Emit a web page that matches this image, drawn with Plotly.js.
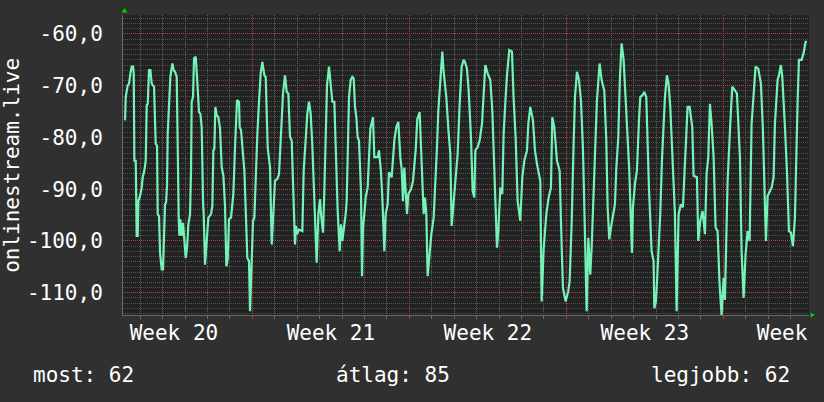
<!DOCTYPE html>
<html>
<head>
<meta charset="utf-8">
<script src="https://cdn.plot.ly/plotly-3.0.1.min.js"></script>
<style>html,body{margin:0;padding:0;background:#303030;}#chart{width:824px;height:402px;}</style>
</head>
<body>
<div id="chart"></div>
<script>
// ---- data: day offsets from Monday of Week 20, and values ----
const dayOffsets = [
1.321,1.351,1.440,1.499,1.559,1.618,1.678,1.708,1.737,1.797,
1.841,1.886,1.916,1.990,2.064,2.109,2.183,2.243,2.287,2.332,
2.391,2.451,2.510,2.614,2.688,2.748,2.778,2.837,2.882,2.956,
3.015,3.045,3.104,3.149,3.193,3.223,3.342,3.432,3.491,3.550,
3.625,3.714,3.744,3.788,3.848,3.907,3.951,4.026,4.085,4.145,
4.219,4.264,4.293,4.353,4.397,4.472,4.531,4.620,4.680,4.739,
4.799,4.828,4.888,4.977,5.037,5.155,5.215,5.259,5.304,5.349,
5.408,5.482,5.557,5.631,5.706,5.779,5.839,5.898,5.958,6.047,
6.151,6.225,6.314,6.404,6.433,6.493,6.552,6.642,6.775,6.849,
6.894,6.954,7.028,7.087,7.177,7.221,7.295,7.370,7.444,7.533,
7.593,7.682,7.786,7.860,7.919,8.008,8.113,8.187,8.261,8.365,
8.454,8.529,8.603,8.677,8.752,8.900,8.945,8.989,9.078,9.227,
9.287,9.346,9.450,9.524,9.599,9.673,9.762,9.792,9.866,9.941,
10.015,10.059,10.149,10.208,10.268,10.327,10.416,10.476,10.565,10.654,
10.713,10.803,10.892,10.951,11.011,11.070,11.159,11.204,11.248,11.308,11.382,
11.456,11.516,11.575,11.635,11.694,11.753,11.813,11.843,11.887,
11.932,11.991,12.051,12.140,12.259,12.378,12.437,12.586,12.645,12.734,
12.794,12.883,12.943,13.032,13.091,13.210,13.269,13.329,13.418,13.507,
13.596,13.656,13.715,13.775,13.893,13.953,14.072,14.161,14.280,14.354,
14.458,14.518,14.577,14.637,14.696,14.756,14.815,14.904,14.979,15.083,
15.172,15.231,15.291,15.409,15.469,15.528,15.647,15.737,15.826,15.885,
15.974,16.063,16.152,16.242,16.331,16.420,16.479,16.568,16.643,16.747,
16.821,16.896,16.940,17.044,17.133,17.237,17.312,17.386,17.490,17.609,
17.698,17.787,17.877,17.906,17.966,18.055,18.144,18.203,18.292,18.352,
18.456,18.575,18.649,18.738,18.828,18.946,19.036,19.125,19.244,19.303,
19.392,19.511,19.600,19.689,19.838,19.897,19.987,20.106,20.210,20.313,
20.373,20.462,20.581,20.700,20.789,20.849,20.968,21.086,21.146,21.235,
21.324,21.384,21.473,21.562,21.651,21.740,21.829,21.904,21.978,22.067,
22.127,22.216,22.275,22.364,22.483,22.572,22.691,22.781,22.840,22.915,
22.989,23.078,23.167,23.226,23.316,23.390,23.464,23.553,23.731,23.806,
23.924,23.969,24.058,24.147,24.237,24.296,24.400,24.475,24.564,24.683,
24.802,24.891,24.921,24.995,25.069,25.188,25.262,25.396,25.485,25.559,
25.634,25.753,25.842,25.916,26.005,26.109,26.198,26.287,26.406,26.496,26.615,
26.674,26.823,26.882,26.971,27.075,27.179,27.253,27.328,
27.402,27.477,27.566,27.655,27.744,27.833,27.922,28.011,28.071,28.190,
28.309,28.398,28.517,28.606,28.740,28.814,28.903,28.992,29.082,29.171,
29.260,29.349,29.438,29.557,29.676,29.765,29.825,29.899,29.973,30.152,
30.241,30.300,30.419,30.479,30.568,30.628,30.747,30.836,30.925,31.014,
31.103,31.192,31.311,31.371,31.490,31.579,31.668,31.727
];
const onlineValues = [
-76.7,-72.2,-69.9,-69.6,-67.6,-66.3,-66.3,-67.6,-84.5,-84.5,
-99.0,-99.0,-92.3,-91.3,-89.7,-87.7,-86.4,-84.5,-73.8,-73.5,
-67.0,-67.0,-69.6,-70.2,-81.2,-81.6,-94.8,-95.2,-102.3,-105.5,
-105.5,-101.3,-92.9,-92.6,-89.3,-79.3,-68.3,-65.7,-67.0,-67.3,
-68.3,-95.5,-99.0,-95.8,-99.0,-96.5,-99.4,-103.3,-101.3,-96.8,
-94.8,-86.4,-73.1,-72.2,-64.7,-64.4,-68.3,-75.1,-75.4,-78.0,
-92.3,-94.8,-104.6,-99.0,-95.5,-94.8,-93.2,-82.5,-82.2,-74.1,
-75.7,-76.1,-78.3,-85.8,-87.4,-93.2,-104.9,-103.6,-95.8,-95.5,
-90.9,-81.9,-72.8,-73.1,-78.0,-78.6,-81.2,-86.4,-103.3,-103.9,
-113.6,-103.6,-96.1,-95.5,-81.2,-79.3,-73.1,-67.6,-65.4,-68.0,
-68.3,-81.9,-85.8,-100.7,-95.8,-88.4,-88.0,-87.1,-80.6,-71.5,
-68.0,-71.2,-71.5,-79.9,-80.6,-100.7,-97.1,-98.7,-97.8,-98.1,
-86.4,-81.9,-75.4,-73.1,-75.4,-81.6,-91.9,-92.3,-104.2,-94.8,
-91.9,-94.8,-98.4,-90.3,-81.9,-69.9,-66.3,-68.9,-73.1,-73.1,
-81.9,-94.2,-102.0,-96.8,-100.0,-98.1,-94.8,-92.3,-84.5,-72.2,-68.9,
-68.3,-68.6,-74.1,-76.1,-80.0,-80.6,-90.0,-90.3,-106.8,
-97.4,-94.8,-91.6,-89.7,-78.3,-76.1,-83.8,-83.8,-82.5,-86.7,
-91.6,-102.0,-94.8,-92.9,-86.7,-87.7,-84.5,-80.6,-78.0,-77.0,
-83.8,-86.1,-92.3,-85.8,-94.8,-90.9,-90.0,-88.4,-82.5,-76.4,
-75.1,-82.2,-87.1,-94.8,-91.6,-94.8,-106.8,-102.0,-98.7,-95.5,
-88.4,-81.9,-74.8,-65.7,-63.4,-67.3,-72.2,-78.3,-83.2,-97.1,
-92.9,-89.0,-83.2,-73.5,-66.3,-65.0,-65.4,-66.7,-70.9,-80.0,
-90.3,-91.6,-82.5,-81.9,-80.6,-77.4,-70.9,-66.0,-67.6,-68.9,
-74.8,-85.8,-97.4,-101.3,-98.1,-89.7,-90.9,-79.3,-72.2,-68.0,
-63.1,-63.4,-72.5,-80.0,-92.3,-96.1,-87.7,-84.5,-82.5,-77.4,
-74.1,-76.7,-82.5,-85.1,-88.4,-111.7,-101.6,-94.8,-91.6,-89.7,
-76.1,-78.0,-84.5,-86.4,-100.7,-109.1,-111.7,-109.7,-107.8,-96.8,
-81.2,-72.2,-67.3,-68.9,-72.8,-82.2,-98.7,-113.6,-99.4,-106.5,
-101.3,-90.3,-81.9,-72.8,-65.7,-68.9,-70.9,-80.6,-93.5,-99.7,
-97.4,-94.8,-92.9,-86.1,-79.9,-68.3,-61.8,-65.0,-79.9,-86.4,
-102.3,-93.5,-89.0,-86.4,-76.7,-72.2,-71.8,-71.2,-72.2,-89.7,
-102.0,-103.9,-113.0,-111.7,-105.5,-94.8,-84.5,-72.2,-68.0,-69.6,
-74.1,-87.1,-94.8,-113.6,-94.8,-92.9,-93.5,-85.1,-74.1,-74.1,-78.0,
-87.4,-87.7,-100.0,-96.1,-94.2,-98.7,-87.1,-83.8,
-73.5,-77.4,-83.8,-97.4,-98.1,-108.4,-114.3,-107.1,-111.4,-88.4,
-77.4,-70.2,-70.9,-71.5,-83.8,-102.0,-111.0,-102.6,-98.1,-100.0,
-77.4,-71.5,-66.3,-66.7,-69.6,-78.6,-91.3,-100.0,-91.3,-89.7,
-87.7,-77.4,-68.9,-68.0,-66.0,-68.3,-78.0,-86.4,-98.1,-98.4,
-101.0,-95.5,-73.1,-65.0,-65.0,-63.7,-61.5,-61.5
];

// ---- axis labels ----
// the last week label is shown truncated ("Week") in the source, placed where its full text began
const weekLabels = ['Week 20', 'Week 21', 'Week 22', 'Week 23', 'Week'];
const weekLabelPos = [3.5, 10.5, 17.5, 24.5, 30.62];
const yTickVals = [-60, -70, -80, -90, -100, -110];
const yTickLabels = ['-60,0', '-70,0', '-80,0', '-90,0', '-100,0', '-110,0'];
const yAxisTitle = 'onlinestream.live';
const statNames = ['most', 'átlag', 'legjobb'];
const statValues = [62, 85, 62];

const FONT = 'DejaVu Sans Mono, monospace';
const TXT = '#ffffff';

const traces = [
  {
    type: 'scatter', mode: 'lines',
    x: dayOffsets, y: onlineValues,
    line: {color: '#74f2b8', width: 2.2},
    hoverinfo: 'skip'
  },
  { type: 'scatter', mode: 'lines', x: [], y: [], xaxis: 'x2', yaxis: 'y', hoverinfo: 'skip' }
];

const xRange = [1.23, 31.82];
const layout = {
  width: 824, height: 402,
  paper_bgcolor: '#303030',
  plot_bgcolor: '#222222',
  margin: {l: 123.3, r: 14.5, t: 15, b: 87, pad: 0},
  font: {family: FONT, size: 21, color: TXT},
  showlegend: false,
  xaxis: {
    range: xRange, tickmode: 'linear', tick0: 0, dtick: 7,
    showticklabels: false,
    showgrid: true, gridcolor: '#b04444', gridwidth: 1, griddash: '1px,1px',
    ticks: 'outside', ticklen: 3, tickcolor: '#b04040', tickwidth: 1,
    showline: true, linecolor: '#6a6a6a', linewidth: 1,
    zeroline: false, fixedrange: true,
    minor: {tickmode: 'linear', tick0: 0, dtick: 1, showgrid: true, gridcolor: '#606060', gridwidth: 1, griddash: '1px,1px',
            ticks: 'outside', ticklen: 3, tickcolor: '#6a6a6a'}
  },
  xaxis2: {
    overlaying: 'x', anchor: 'y', side: 'bottom',
    range: xRange, tickmode: 'array', tickvals: weekLabelPos, ticktext: weekLabels,
    showgrid: false, ticks: '', showline: false, zeroline: false, fixedrange: true,
    ticklabeloverflow: 'allow',
    tickfont: {family: FONT, size: 21, color: TXT}, ticklabelstandoff: 3
  },
  yaxis: {
    range: [-114.31, -56.33],
    tickmode: 'array', tickvals: yTickVals, ticktext: yTickLabels,
    showgrid: true, gridcolor: '#b04444', gridwidth: 1, griddash: '1px,1px',
    ticks: '', showline: true, linecolor: '#6a6a6a', linewidth: 1,
    zeroline: false, fixedrange: true,
    tickfont: {family: FONT, size: 21, color: TXT}, ticklabelstandoff: 15,
    minor: {tickmode: 'linear', tick0: 0, dtick: 1, showgrid: true, gridcolor: '#505050', gridwidth: 1, griddash: '1px,1px'}
  },
  annotations: [
    {text: yAxisTitle, textangle: -90, xref: 'paper', yref: 'paper', x: -0.162, y: 0.5,
     xanchor: 'center', yanchor: 'middle', showarrow: false, font: {family: FONT, size: 21, color: TXT}},
    {text: statNames[0] + ': ' + statValues[0], xref: 'paper', yref: 'paper', x: -0.134, y: -0.2,
     xanchor: 'left', yanchor: 'middle', showarrow: false, font: {family: FONT, size: 21, color: TXT}},
    {text: statNames[1] + ': ' + statValues[1], xref: 'paper', yref: 'paper', x: 0.3078, y: -0.2,
     xanchor: 'left', yanchor: 'middle', showarrow: false, font: {family: FONT, size: 21, color: TXT}},
    {text: statNames[2] + ': ' + statValues[2], xref: 'paper', yref: 'paper', x: 0.9752, y: -0.2,
     xanchor: 'right', yanchor: 'middle', showarrow: false, font: {family: FONT, size: 21, color: TXT}}
  ],
  shapes: [
    {type: 'path', xref: 'paper', yref: 'paper', xsizemode: 'pixel', ysizemode: 'pixel', xanchor: 0, yanchor: 1,
     path: 'M -1.5 2.5 L 4.5 2.5 L 1.5 7 Z', fillcolor: '#00d000', line: {width: 0}},
    {type: 'path', xref: 'paper', yref: 'paper', xsizemode: 'pixel', ysizemode: 'pixel', xanchor: 1, yanchor: 0,
     path: 'M 1.5 2.5 L 1.5 -2.5 L 6 0 Z', fillcolor: '#00d000', line: {width: 0}}
  ]
};

Plotly.newPlot('chart', traces, layout, {staticPlot: true, displayModeBar: false});
</script>
</body>
</html>
